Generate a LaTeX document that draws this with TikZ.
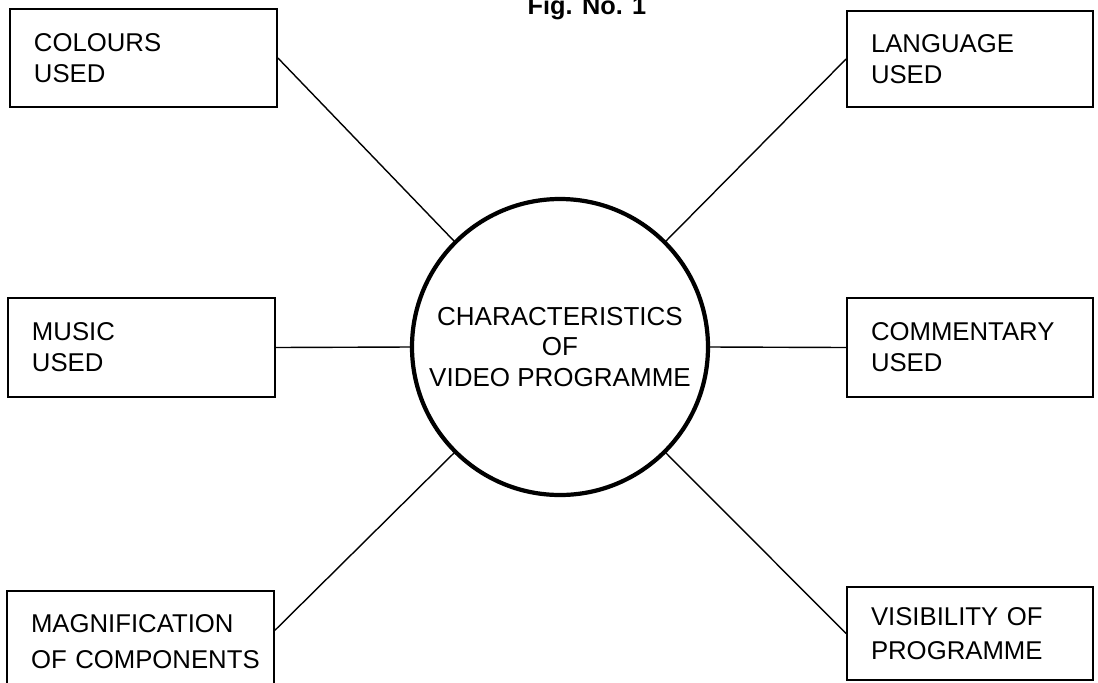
\documentclass[tikz,border=0pt]{standalone}
\usepackage{fontspec}
\setmainfont{Liberation Sans}
\usepackage{tikz}
\usetikzlibrary{calc}

\begin{document}
\begin{tikzpicture}[
    hopso/.style={draw, line width=1.3pt, rectangle, inner xsep=0.6cm,
        align=left, font=\fontsize{18.3}{22}\selectfont},
    tam/.style={draw, circle, line width=3pt, minimum size=7.4cm, inner sep=0pt,
        align=center, font=\fontsize{18.5}{22}\selectfont},
    noi/.style={line width=1pt}]
    % 1. Khung hình
    \useasboundingbox (0,0) rectangle (27.45,-17.05);

    % 2. Tiêu đề
    \node[anchor=base, font=\bfseries\fontsize{18}{22}\selectfont] (tieude) at (14.675,-0.35) {Fig. No. 1};

    % 3. Vòng tròn ở giữa
    \node[tam] (tam) at (14,-8.675) {CHARACTERISTICS\\OF\\VIDEO PROGRAMME};

    % 4. Các hộp
    \node[hopso, text width=5.475cm, minimum height=2.45cm] (mau) at (3.5875,-1.45) {COLOURS\\USED};
    \node[hopso, text width=4.95cm, minimum height=2.4cm] (ngonngu) at (24.25,-1.475) {LANGUAGE\\USED};
    \node[hopso, text width=5.475cm, minimum height=2.475cm] (nhac) at (3.5375,-8.6875) {MUSIC\\USED};
    \node[hopso, text width=4.95cm, minimum height=2.475cm] (binhluan) at (24.25,-8.6875) {COMMENTARY\\USED};
    \node[hopso, text width=5.475cm, minimum height=2.525cm, font=\fontsize{18.3}{26}\selectfont] (phongdai) at (3.5125,-16.0375) {MAGNIFICATION\\\mbox{OF COMPONENTS}};
    \node[hopso, text width=4.95cm, minimum height=2.325cm, font=\fontsize{18.3}{24}\selectfont] (hienthi) at (24.25,-15.8375) {VISIBILITY OF\\PROGRAMME};

    % 5. Đường nối
    \draw[noi] (mau.east) -- (tam.135);
    \draw[noi] (ngonngu.west) -- (tam.45);
    \draw[noi] (nhac.east) -- (tam.west);
    \draw[noi] (binhluan.west) -- (tam.east);
    \draw[noi] ([yshift=0.28cm]phongdai.east) -- (tam.225);
    \draw[noi] (hienthi.west) -- (tam.315);
\end{tikzpicture}
\end{document}
